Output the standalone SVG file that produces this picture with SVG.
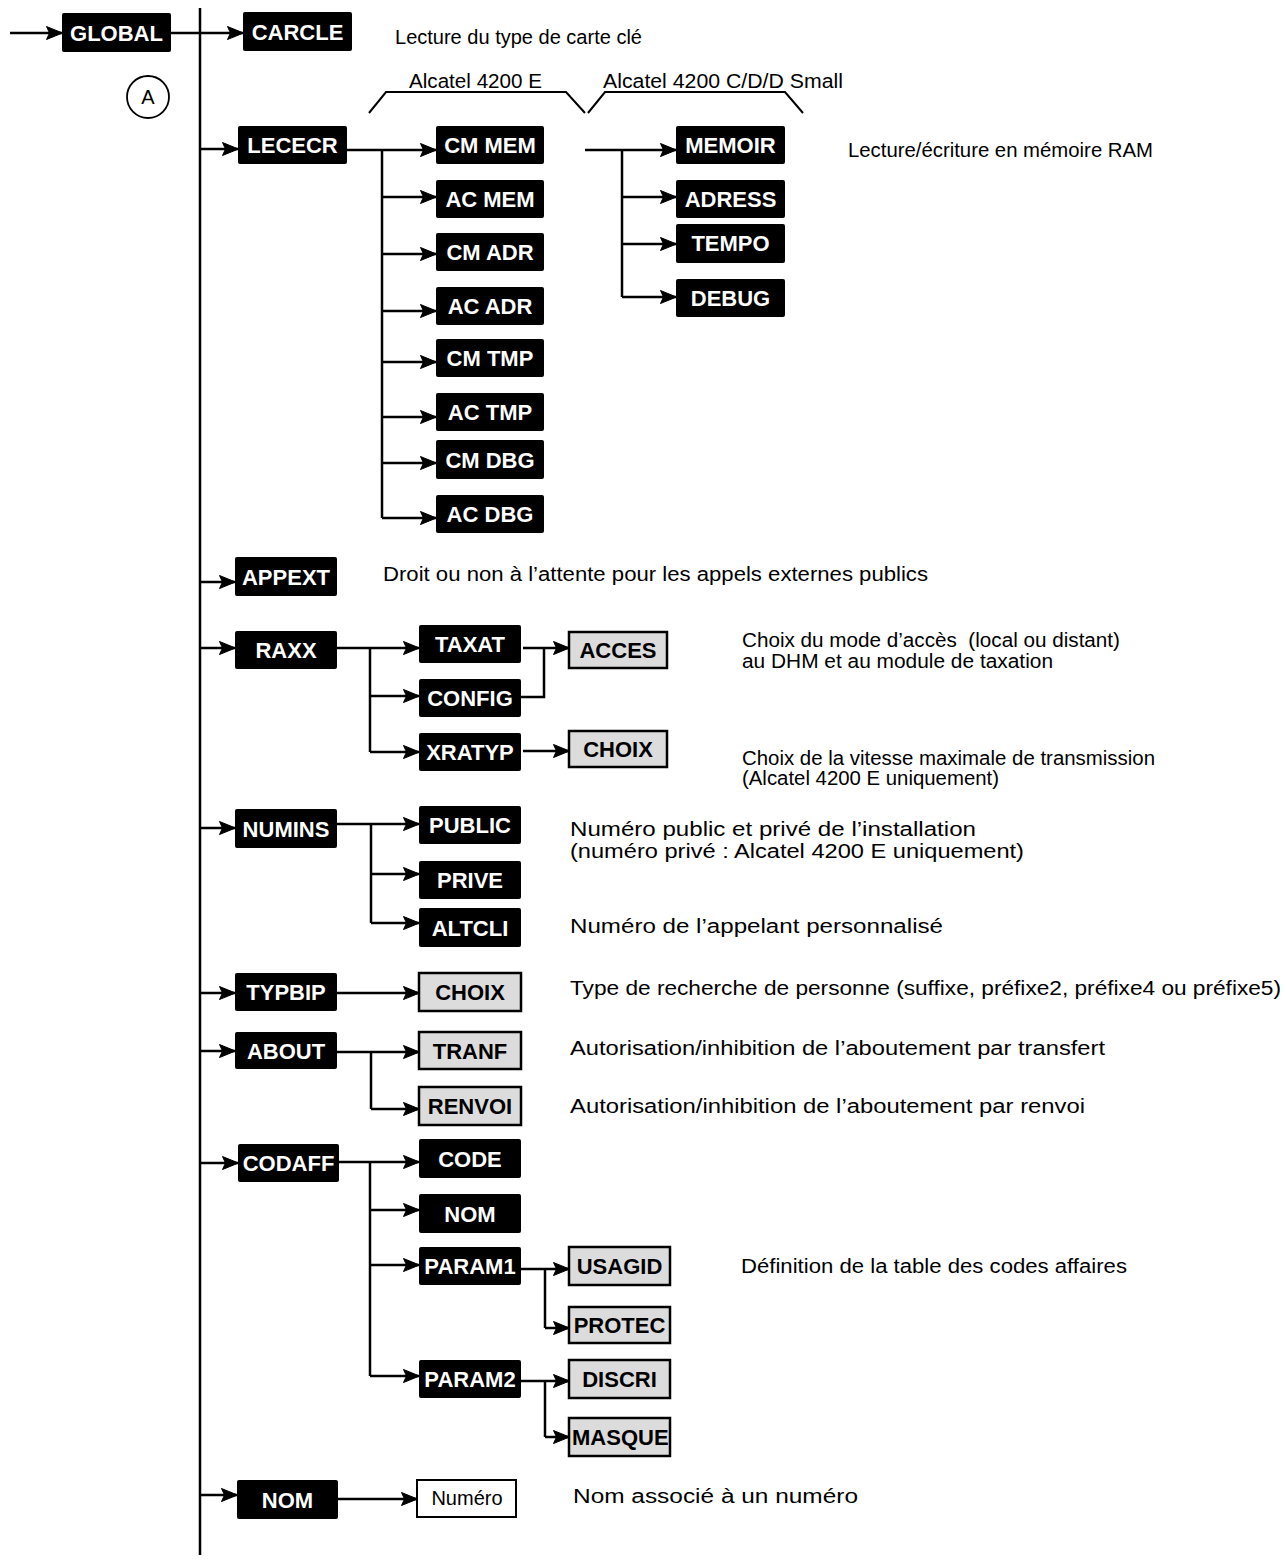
<svg xmlns="http://www.w3.org/2000/svg" width="1287" height="1562" viewBox="0 0 1287 1562">
<style>
.n rect{fill:#000;}
.n text{fill:#fff;font-family:"Liberation Sans",Arial,sans-serif;font-weight:bold;font-size:22px;text-anchor:middle;}
.g rect{fill:#dcdcdc;stroke:#000;stroke-width:2.5;}
.g text{fill:#000;font-family:"Liberation Sans",Arial,sans-serif;font-weight:bold;font-size:22px;text-anchor:middle;}
.w rect{fill:#fff;stroke:#000;stroke-width:2;}
.w text{fill:#000;font-family:"Liberation Sans",Arial,sans-serif;font-size:20px;text-anchor:middle;}
.d{fill:#000;font-family:"Liberation Sans",Arial,sans-serif;font-size:20px;white-space:pre;}
.conn{fill:none;stroke:#000;stroke-width:2.5;}
.conn.a{marker-end:url(#ah);}
.conn.br{stroke-width:2;}
</style>
<defs>
<marker id="ah" viewBox="0 0 17 14" markerWidth="17" markerHeight="14" refX="16" refY="7" orient="auto" markerUnits="userSpaceOnUse">
<path d="M0.5,0.5 L16.5,7 L0.5,13.5 L3.5,7 Z" style="fill:#000;stroke:#000;stroke-width:1;stroke-linejoin:miter"/>
</marker>
<clipPath id="clipMasque"><rect x="569" y="1418" width="100" height="38"/></clipPath>
</defs>
<rect x="0" y="0" width="1287" height="1562" fill="#fff"/>

<g id="connectors">
<path class="conn a" d="M10,33 H62"/>
<path class="conn" d="M200,8 V1555"/>
<path class="conn a" d="M171,33 H243"/>
<path class="conn a" d="M200,149 H238"/>
<path class="conn a" d="M347,150 H436"/>
<path class="conn" d="M382,150 V518"/>
<path class="conn a" d="M382,197 H436"/>
<path class="conn a" d="M382,254 H436"/>
<path class="conn a" d="M382,311 H436"/>
<path class="conn a" d="M382,362 H436"/>
<path class="conn a" d="M382,417 H436"/>
<path class="conn a" d="M382,463 H436"/>
<path class="conn a" d="M382,518 H436"/>
<path class="conn a" d="M585,150 H676"/>
<path class="conn" d="M622,150 V297"/>
<path class="conn a" d="M622,197 H676"/>
<path class="conn a" d="M622,244 H676"/>
<path class="conn a" d="M622,297 H676"/>
<path class="conn br" d="M369,113 L386,92 H566 L585,113"/>
<path class="conn br" d="M588,113 L605,92 H785 L803,113"/>
<path class="conn a" d="M200,582 H235"/>
<path class="conn a" d="M200,648 H235"/>
<path class="conn a" d="M337,648 H419"/>
<path class="conn" d="M370,648 V752"/>
<path class="conn a" d="M370,696 H419"/>
<path class="conn a" d="M370,752 H419"/>
<path class="conn a" d="M523,648 H569"/>
<path class="conn" d="M521,697 H544 V648"/>
<path class="conn a" d="M523,751 H569"/>
<path class="conn a" d="M200,828 H235"/>
<path class="conn a" d="M337,824 H419"/>
<path class="conn" d="M371,824 V923"/>
<path class="conn a" d="M371,874 H419"/>
<path class="conn a" d="M371,923 H419"/>
<path class="conn a" d="M200,993 H235"/>
<path class="conn a" d="M337,993 H419"/>
<path class="conn a" d="M200,1051 H235"/>
<path class="conn a" d="M337,1052 H419"/>
<path class="conn" d="M371,1052 V1109"/>
<path class="conn a" d="M371,1109 H419"/>
<path class="conn a" d="M200,1163 H238"/>
<path class="conn a" d="M339,1162 H419"/>
<path class="conn" d="M370,1162 V1376"/>
<path class="conn a" d="M370,1210 H419"/>
<path class="conn a" d="M370,1265 H419"/>
<path class="conn a" d="M370,1376 H419"/>
<path class="conn a" d="M521,1269 H569"/>
<path class="conn" d="M545,1269 V1328"/>
<path class="conn a" d="M545,1328 H569"/>
<path class="conn a" d="M521,1381 H569"/>
<path class="conn" d="M545,1381 V1437"/>
<path class="conn a" d="M545,1437 H569"/>
<path class="conn a" d="M200,1495 H237"/>
<path class="conn a" d="M338,1499 H417"/>
</g>

<g id="node-global" class="n"><rect x="62" y="13" width="109" height="39" rx="2"/><text x="116.5" y="40.5">GLOBAL</text></g>
<g id="node-carcle" class="n"><rect x="243" y="12" width="109" height="39" rx="2"/><text x="297.5" y="39.5">CARCLE</text></g>
<g id="node-lececr" class="n"><rect x="238" y="126" width="109" height="38" rx="2"/><text x="292.5" y="153">LECECR</text></g>
<g id="node-cmmem" class="n"><rect x="436" y="126" width="108" height="38" rx="2"/><text x="490" y="153">CM MEM</text></g>
<g id="node-acmem" class="n"><rect x="436" y="180" width="108" height="38" rx="2"/><text x="490" y="207">AC MEM</text></g>
<g id="node-cmadr" class="n"><rect x="436" y="233" width="108" height="38" rx="2"/><text x="490" y="260">CM ADR</text></g>
<g id="node-acadr" class="n"><rect x="436" y="287" width="108" height="38" rx="2"/><text x="490" y="314">AC ADR</text></g>
<g id="node-cmtmp" class="n"><rect x="436" y="339" width="108" height="38" rx="2"/><text x="490" y="366">CM TMP</text></g>
<g id="node-actmp" class="n"><rect x="436" y="393" width="108" height="38" rx="2"/><text x="490" y="420">AC TMP</text></g>
<g id="node-cmdbg" class="n"><rect x="436" y="440" width="108" height="39" rx="2"/><text x="490" y="467.5">CM DBG</text></g>
<g id="node-acdbg" class="n"><rect x="436" y="495" width="108" height="38" rx="2"/><text x="490" y="522">AC DBG</text></g>
<g id="node-memoir" class="n"><rect x="676" y="126" width="109" height="38" rx="2"/><text x="730.5" y="153">MEMOIR</text></g>
<g id="node-adress" class="n"><rect x="676" y="180" width="109" height="38" rx="2"/><text x="730.5" y="207">ADRESS</text></g>
<g id="node-tempo" class="n"><rect x="676" y="224" width="109" height="39" rx="2"/><text x="730.5" y="251">TEMPO</text></g>
<g id="node-debug" class="n"><rect x="676" y="279" width="109" height="38" rx="2"/><text x="730.5" y="306">DEBUG</text></g>
<g id="node-appext" class="n"><rect x="235" y="557" width="102" height="39" rx="2"/><text x="286" y="584.5">APPEXT</text></g>
<g id="node-raxx" class="n"><rect x="235" y="631" width="102" height="38" rx="2"/><text x="286" y="658">RAXX</text></g>
<g id="node-taxat" class="n"><rect x="419" y="625" width="102" height="38" rx="2"/><text x="470" y="652">TAXAT</text></g>
<g id="node-config" class="n"><rect x="419" y="679" width="102" height="38" rx="2"/><text x="470" y="706">CONFIG</text></g>
<g id="node-xratyp" class="n"><rect x="419" y="733" width="102" height="38" rx="2"/><text x="470" y="760">XRATYP</text></g>
<g id="node-acces" class="g"><rect x="569" y="632" width="98" height="36"/><text x="618" y="658">ACCES</text></g>
<g id="node-choix1" class="g"><rect x="569" y="731" width="98" height="36"/><text x="618" y="757">CHOIX</text></g>
<g id="node-numins" class="n"><rect x="235" y="809" width="102" height="39" rx="2"/><text x="286" y="836.5">NUMINS</text></g>
<g id="node-public" class="n"><rect x="419" y="806" width="102" height="38" rx="2"/><text x="470" y="833">PUBLIC</text></g>
<g id="node-prive" class="n"><rect x="419" y="861" width="102" height="38" rx="2"/><text x="470" y="888">PRIVE</text></g>
<g id="node-altcli" class="n"><rect x="419" y="908" width="102" height="39" rx="2"/><text x="470" y="935.5">ALTCLI</text></g>
<g id="node-typbip" class="n"><rect x="235" y="973" width="102" height="38" rx="2"/><text x="286" y="1000">TYPBIP</text></g>
<g id="node-choix2" class="g"><rect x="419" y="973" width="102" height="38"/><text x="470" y="1000">CHOIX</text></g>
<g id="node-about" class="n"><rect x="235" y="1032" width="102" height="37" rx="2"/><text x="286" y="1058.5">ABOUT</text></g>
<g id="node-tranf" class="g"><rect x="419" y="1032" width="102" height="37"/><text x="470" y="1058.5">TRANF</text></g>
<g id="node-renvoi" class="g"><rect x="419" y="1087" width="102" height="38"/><text x="470" y="1114">RENVOI</text></g>
<g id="node-codaff" class="n"><rect x="238" y="1144" width="101" height="38" rx="2"/><text x="288.5" y="1171">CODAFF</text></g>
<g id="node-code" class="n"><rect x="419" y="1139" width="102" height="39" rx="2"/><text x="470" y="1166.5">CODE</text></g>
<g id="node-nom1" class="n"><rect x="419" y="1194" width="102" height="39" rx="2"/><text x="470" y="1221.5">NOM</text></g>
<g id="node-param1" class="n"><rect x="419" y="1247" width="102" height="38" rx="2"/><text x="470" y="1274">PARAM1</text></g>
<g id="node-usagid" class="g"><rect x="569" y="1247" width="101" height="38"/><text x="619.5" y="1274">USAGID</text></g>
<g id="node-protec" class="g"><rect x="569" y="1307" width="101" height="36"/><text x="619.5" y="1333">PROTEC</text></g>
<g id="node-param2" class="n"><rect x="419" y="1360" width="102" height="38" rx="2"/><text x="470" y="1387">PARAM2</text></g>
<g id="node-discri" class="g"><rect x="569" y="1360" width="101" height="38"/><text x="619.5" y="1387">DISCRI</text></g>
<g id="node-masque" class="g"><rect x="569" y="1418" width="101" height="38"/><text x="572" y="1445" style="text-anchor:start" clip-path="url(#clipMasque)">MASQUE</text></g>
<g id="node-nom2" class="n"><rect x="237" y="1480" width="101" height="39" rx="2"/><text x="287.5" y="1507.5">NOM</text></g>
<g id="node-numero" class="w"><rect x="417" y="1480" width="99" height="37"/><text x="467" y="1505">Numéro</text></g>

<g id="marker-a">
<circle cx="148" cy="97" r="21" fill="none" stroke="#000" stroke-width="1.8"/>
<text x="148" y="104" class="d" text-anchor="middle">A</text>
</g>

<g id="labels">
<text class="d" x="395" y="44" textLength="247" lengthAdjust="spacingAndGlyphs">Lecture du type de carte clé</text>
<text class="d" x="409" y="88" textLength="133" lengthAdjust="spacingAndGlyphs">Alcatel 4200 E</text>
<text class="d" x="603" y="88" textLength="240" lengthAdjust="spacingAndGlyphs">Alcatel 4200 C/D/D Small</text>
<text class="d" x="848" y="157" textLength="305" lengthAdjust="spacingAndGlyphs">Lecture/écriture en mémoire RAM</text>
<text class="d" x="383" y="581" textLength="545" lengthAdjust="spacingAndGlyphs">Droit ou non à l’attente pour les appels externes publics</text>
<text class="d" x="742" y="647" xml:space="preserve" textLength="378" lengthAdjust="spacingAndGlyphs">Choix du mode d’accès  (local ou distant)</text>
<text class="d" x="742" y="668" textLength="311" lengthAdjust="spacingAndGlyphs">au DHM et au module de taxation</text>
<text class="d" x="742" y="765" textLength="413" lengthAdjust="spacingAndGlyphs">Choix de la vitesse maximale de transmission</text>
<text class="d" x="742" y="785" textLength="257" lengthAdjust="spacingAndGlyphs">(Alcatel 4200 E uniquement)</text>
<text class="d" x="570" y="836" textLength="406" lengthAdjust="spacingAndGlyphs">Numéro public et privé de l’installation</text>
<text class="d" x="570" y="858" textLength="454" lengthAdjust="spacingAndGlyphs">(numéro privé : Alcatel 4200 E uniquement)</text>
<text class="d" x="570" y="933" textLength="373" lengthAdjust="spacingAndGlyphs">Numéro de l’appelant personnalisé</text>
<text class="d" x="570" y="995" textLength="711" lengthAdjust="spacingAndGlyphs">Type de recherche de personne (suffixe, préfixe2, préfixe4 ou préfixe5)</text>
<text class="d" x="570" y="1055" textLength="535" lengthAdjust="spacingAndGlyphs">Autorisation/inhibition de l’aboutement par transfert</text>
<text class="d" x="570" y="1113" textLength="515" lengthAdjust="spacingAndGlyphs">Autorisation/inhibition de l’aboutement par renvoi</text>
<text class="d" x="741" y="1273" textLength="386" lengthAdjust="spacingAndGlyphs">Définition de la table des codes affaires</text>
<text class="d" x="573" y="1503" textLength="285" lengthAdjust="spacingAndGlyphs">Nom associé à un numéro</text>
</g>
</svg>
